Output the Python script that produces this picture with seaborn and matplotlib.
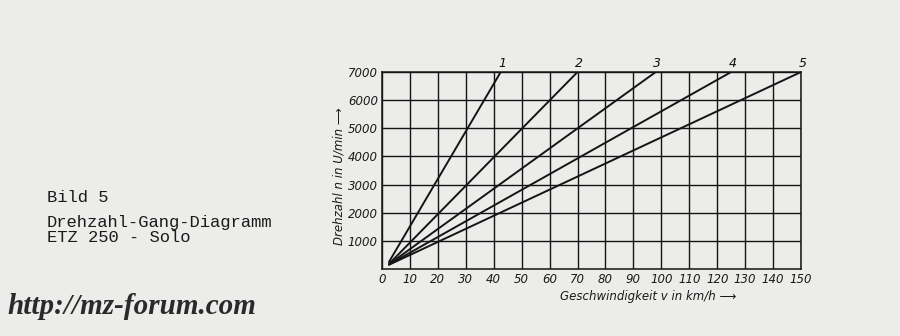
import matplotlib
matplotlib.use("Agg")
import matplotlib.pyplot as plt
import seaborn as sns
import pandas as pd
import numpy as np

sns.set_theme(style="white")
plt.rcParams['font.family'] = ['DejaVu Sans']

# Data
gears = ["1", "2", "3", "4", "5"]
start_speed = [2.5, 2.5, 2.5, 2.5, 2.5]      # km/h
start_rpm = [250, 180, 170, 160, 150]        # U/min
end_speed = [42.5, 70, 98, 125, 150]         # km/h at 7000 U/min
end_rpm = [7000, 7000, 7000, 7000, 7000]
x_ticks = [0, 10, 20, 30, 40, 50, 60, 70, 80, 90, 100, 110, 120, 130, 140, 150]
y_ticks = [1000, 2000, 3000, 4000, 5000, 6000, 7000]

rows = []
for g, s0, r0, s1, r1 in zip(gears, start_speed, start_rpm, end_speed, end_rpm):
    rows.append({"gear": g, "v": s0, "n": r0})
    rows.append({"gear": g, "v": s1, "n": r1})
df = pd.DataFrame(rows)

bg = "#ececea"
fig = plt.figure(figsize=(9, 3.36), dpi=100, facecolor=bg)
ax = fig.add_axes([382/900, 1-269/336, (801-382)/900, (269-72)/336])
ax.set_facecolor(bg)

sns.lineplot(data=df, x="v", y="n", hue="gear", palette=["#151515"]*5,
             legend=False, ax=ax, linewidth=1.4, estimator=None, sort=False)

ax.set_xlim(0, 150)
ax.set_ylim(0, 7000)
ax.set_xticks(x_ticks)
ax.set_yticks(y_ticks)
ax.set_xticklabels([str(t) for t in x_ticks], fontstyle="italic", fontsize=8.5, color="#1a1a1a")
ax.set_yticklabels([str(t) for t in y_ticks], fontstyle="italic", fontsize=8.5, color="#1a1a1a")
ax.grid(True, color="#151515", linewidth=1.0)
ax.tick_params(axis="both", length=0, pad=3)
for sp in ax.spines.values():
    sp.set_color("#151515")
    sp.set_linewidth(1.1)

ax.set_xlabel("Geschwindigkeit v in km/h ⟶", fontstyle="italic", fontsize=8.5,
              color="#1a1a1a")
ax.set_ylabel("Drehzahl n in U/min ⟶", fontstyle="italic", fontsize=8.5,
              color="#1a1a1a")
ax.xaxis.set_label_coords(0.635, -0.105)
ax.yaxis.set_label_coords(-0.088, 0.47)

for g, s1, r1 in zip(gears, end_speed, end_rpm):
    ax.text(s1 + 0.5, r1 + 80, g, fontstyle="italic", fontsize=9,
            ha="center", va="bottom", color="#111")

mono = "Liberation Mono"
fig.text(47/900, 1-197/336, "Bild 5", family=mono, fontsize=12.3, color="#1a1a1a", va="center")
fig.text(47/900, 1-222/336, "Drehzahl-Gang-Diagramm", family=mono, fontsize=12.3, color="#1a1a1a", va="center")
fig.text(47/900, 1-238/336, "ETZ 250 - Solo", family=mono, fontsize=12.3, color="#1a1a1a", va="center")

fig.text(7/900, 1-307/336, "http://mz-forum.com", family="Liberation Serif",
         fontweight="bold", fontstyle="italic", fontsize=21, color="#2a2a2a", va="center")

fig.savefig("out.png", dpi=100, facecolor=bg)
